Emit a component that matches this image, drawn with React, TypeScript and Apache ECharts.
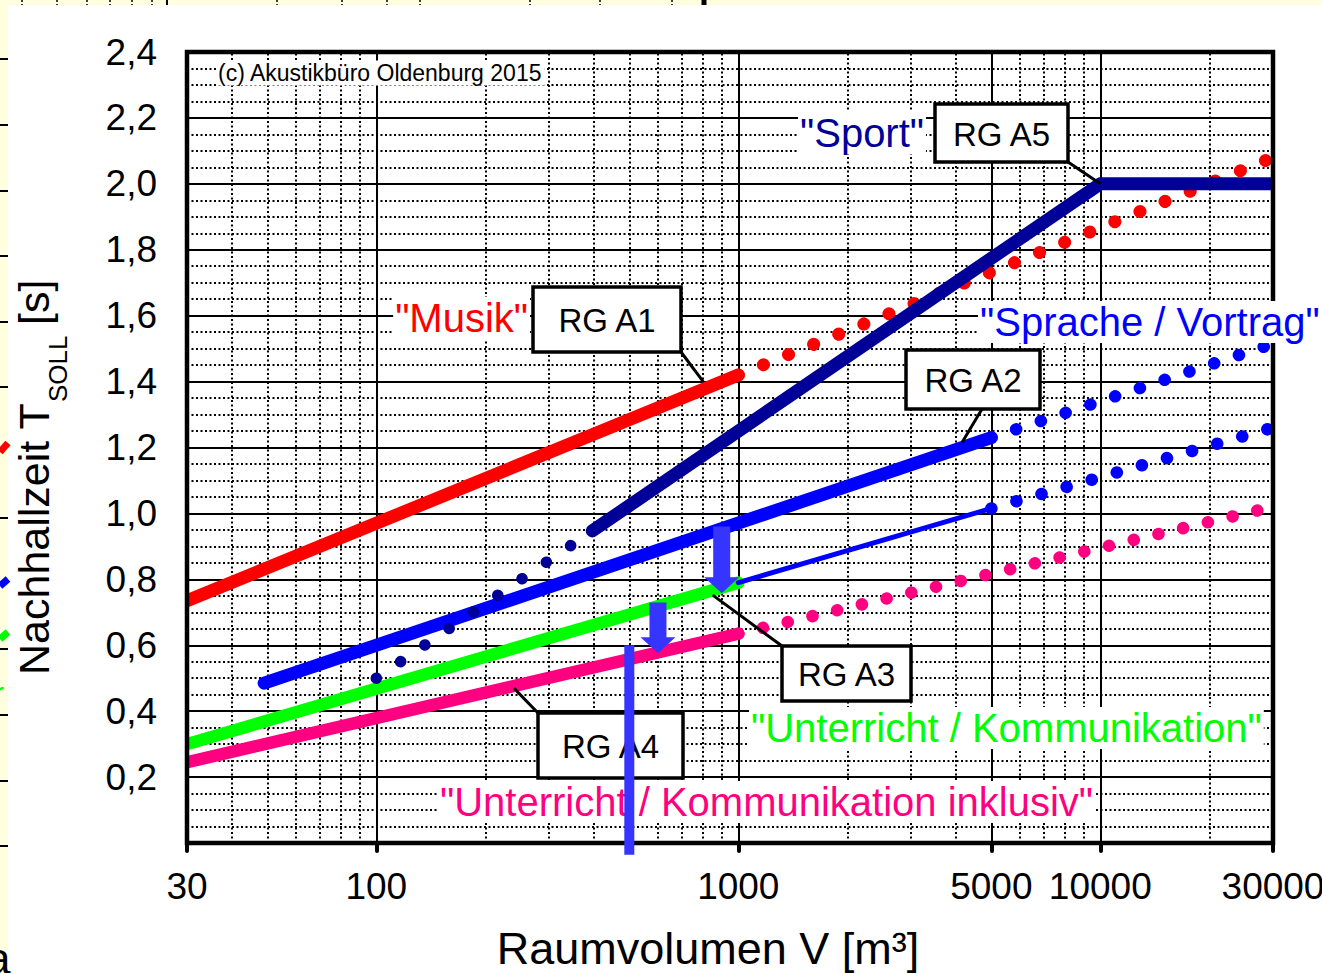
import React, { useEffect, useRef } from 'react';
import * as echarts from 'echarts';

const FONT = '"Liberation Sans", Arial, Helvetica, sans-serif';

// ---- axes ----
const X_MIN = 30;
const X_MAX = 30000;
const X_TICK_LABELS = [30, 100, 1000, 5000, 10000, 30000];
const X_GRID_MAJOR = [100, 1000, 5000, 10000];
const X_GRID_MINOR = [40, 50, 60, 70, 80, 90, 200, 300, 400, 500, 600, 700, 800, 900, 2000, 3000, 4000, 6000, 7000, 8000, 9000, 20000];
const Y_MIN = 0;
const Y_MAX = 2.4;
const Y_INTERVAL = 0.2;

// ---- series: [V in m³, T in s] ----
const A1_MUSIK = [[30, 0.735], [1000, 1.42]];
const A1_MUSIK_EXT = [[1000, 1.42], [30000, 2.08]];
const A2_SPRACHE = [[49, 0.485], [5000, 1.23]];
const A2_SPRACHE_EXT = [[5000, 1.23], [30000, 1.515]];
const A3_UNTERRICHT = [[30, 0.3], [1000, 0.79]];
const A3_UNTERRICHT_MID = [[1000, 0.79], [5000, 1.015]];
const A3_UNTERRICHT_EXT = [[5000, 1.015], [30000, 1.26]];
const A4_INKLUSIV = [[30, 0.245], [1000, 0.635]];
const A4_INKLUSIV_EXT = [[1000, 0.635], [30000, 1.02]];
const A5_SPORT_LOW = [[100, 0.5], [395, 0.947]];
const A5_SPORT = [[395, 0.947], [10000, 2.0], [30000, 2.0]];

// arrows: [V, T start, T tip]
const ARROWS = [[900, 0.96, 0.758], [600, 0.73, 0.576]];
// vertical marker at V = 500
const MARKER_LINE = [[500, 0.6], [500, -0.036]];

// label boxes (pixel layout) with leader anchor in data coords
const RG_BOXES = [
  { label: 'RG A1', rect: [533, 287, 148, 65], from: [681, 352], anchor: [800, 1.4] },
  { label: 'RG A5', rect: [935, 104, 133, 58], from: [1068, 162], anchor: [10000, 2.0] },
  { label: 'RG A2', rect: [906, 350, 134, 59], from: [982, 409], anchor: [4150, 1.215] },
  { label: 'RG A3', rect: [782, 646, 129, 55], from: [782, 646], anchor: [850, 0.752] },
  { label: 'RG A4', rect: [538, 713, 145, 65], from: [538, 713], anchor: [240, 0.47] },
];

const ANNOTATIONS = [
  { text: '(c) Akustikbüro Oldenburg 2015', color: '#000000', x: 216, y: 73, size: 23, align: 'left' },
  { text: '"Musik"', color: '#ff0000', x: 530, y: 318, size: 40, align: 'right' },
  { text: '"Sport"', color: '#000099', x: 798, y: 133, size: 40, align: 'left' },
  { text: '"Sprache / Vortrag"', color: '#0000ff', x: 978, y: 322, size: 40, align: 'left' },
  { text: '"Unterricht / Kommunikation"', color: '#00ff00', x: 749, y: 728, size: 40, align: 'left' },
  { text: '"Unterricht / Kommunikation inklusiv"', color: '#ff0080', x: 438, y: 802, size: 40, align: 'left' },
];

const LEFT_FRAGMENT_TICKS = [59, 125, 191, 256, 322, 387, 518, 649, 715, 781, 846];
const TOP_FRAGMENT_DOTS = [22, 57, 87, 110, 132, 152, 277, 342, 387, 420, 530, 600, 672];

function solid(data: number[][], color: string, width: number, z = 3) {
  return {
    type: 'line', data, symbol: 'none', silent: true, z,
    lineStyle: { color, width, cap: 'round', join: 'round' },
  };
}
function dotted(data: number[][], color: string, width: number, gap: number, z = 3) {
  return {
    type: 'line', data, symbol: 'none', silent: true, z,
    lineStyle: { color, width, cap: 'round', type: [0.1, gap] },
  };
}

function buildGraphic(px: (p: number[]) => number[]) {
  const els: any[] = [];
  const [gx0, gy0] = px([X_MIN, Y_MAX]);
  const [gx1, gy1] = px([X_MAX, Y_MIN]);

  // page background fragments
  els.push({ type: 'rect', silent: true, z: 1, shape: { x: 0, y: 0, width: 1322, height: 5 }, style: { fill: '#ffffe0' } });
  els.push({ type: 'rect', silent: true, z: 1, shape: { x: 0, y: 0, width: 8, height: 973 }, style: { fill: '#ffffe0' } });
  LEFT_FRAGMENT_TICKS.forEach((y) => {
    els.push({ type: 'line', silent: true, z: 2, shape: { x1: 0, y1: y, x2: 8, y2: y }, style: { stroke: '#000', lineWidth: 2 } });
  });
  TOP_FRAGMENT_DOTS.forEach((x) => {
    els.push({ type: 'line', silent: true, z: 2, shape: { x1: x, y1: 0, x2: x, y2: 5 }, style: { stroke: '#000', lineWidth: 1.5, lineDash: [2, 2] } });
  });
  els.push({ type: 'line', silent: true, z: 2, shape: { x1: 167, y1: 0, x2: 167, y2: 5 }, style: { stroke: '#000', lineWidth: 2 } });
  els.push({ type: 'line', silent: true, z: 2, shape: { x1: 704, y1: 0, x2: 704, y2: 5 }, style: { stroke: '#000', lineWidth: 5 } });
  els.push({ type: 'line', silent: true, z: 2, shape: { x1: 0, y1: 452, x2: 8, y2: 443 }, style: { stroke: '#ff0000', lineWidth: 7 } });
  els.push({ type: 'line', silent: true, z: 2, shape: { x1: 0, y1: 586, x2: 8, y2: 579 }, style: { stroke: '#0000ff', lineWidth: 7 } });
  els.push({ type: 'line', silent: true, z: 2, shape: { x1: 0, y1: 639, x2: 8, y2: 632 }, style: { stroke: '#00ff00', lineWidth: 7 } });
  els.push({ type: 'text', silent: true, z: 2, x: -6, y: 692, style: { text: 'r', fontSize: 30, fontFamily: FONT, fill: '#00ff00', align: 'left', verticalAlign: 'middle' } });
  els.push({ type: 'text', silent: true, z: 2, x: -14, y: 958, style: { text: 'a', fontSize: 44, fontFamily: FONT, fill: '#000', align: 'left', verticalAlign: 'middle' } });

  // masks for line caps protruding beyond the plot frame
  els.push({ type: 'rect', silent: true, z: 6, shape: { x: gx0 - 28, y: gy0 - 10, width: 26, height: gy1 - gy0 + 20 }, style: { fill: '#fff' } });
  els.push({ type: 'rect', silent: true, z: 6, shape: { x: gx1 + 2, y: gy0 - 10, width: 20, height: gy1 - gy0 + 20 }, style: { fill: '#fff' } });
  // frame
  els.push({ type: 'rect', silent: true, z: 7, shape: { x: gx0, y: gy0, width: gx1 - gx0, height: gy1 - gy0 }, style: { fill: 'none', stroke: '#000', lineWidth: 4.5 } });

  // axis titles
  els.push({
    type: 'group', x: 34, y: 675, rotation: Math.PI / 2, z: 10, silent: true,
    children: [
      { type: 'text', x: 0, y: 0, style: { text: 'Nachhallzeit T', fontSize: 43, fontFamily: FONT, fill: '#000', align: 'left', verticalAlign: 'middle' } },
      { type: 'text', x: 273, y: 24, style: { text: 'SOLL', fontSize: 26, fontFamily: FONT, fill: '#000', align: 'left', verticalAlign: 'middle' } },
      { type: 'text', x: 350, y: 0, style: { text: '[s]', fontSize: 43, fontFamily: FONT, fill: '#000', align: 'left', verticalAlign: 'middle' } },
    ],
  });
  els.push({ type: 'text', silent: true, z: 10, x: 708, y: 948, style: { text: 'Raumvolumen V [m³]', fontSize: 45, fontFamily: FONT, fill: '#000', align: 'center', verticalAlign: 'middle' } });

  // annotations
  ANNOTATIONS.forEach((a) => {
    els.push({
      type: 'text', silent: true, z: 20, x: a.x, y: a.y,
      style: { text: a.text, fontSize: a.size, fontFamily: FONT, fill: a.color, align: a.align, verticalAlign: 'middle', backgroundColor: '#fff', padding: [1, 2, 1, 2] },
    });
  });

  // RG boxes with leaders
  RG_BOXES.forEach((b) => {
    const [ax, ay] = px(b.anchor);
    els.push({ type: 'line', silent: true, z: 19, shape: { x1: b.from[0], y1: b.from[1], x2: ax, y2: ay }, style: { stroke: '#000', lineWidth: 3 } });
    const [x, y, w, h] = b.rect;
    els.push({ type: 'rect', silent: true, z: 21, shape: { x, y, width: w, height: h }, style: { fill: '#fff', stroke: '#000', lineWidth: 3.5 } });
    els.push({ type: 'text', silent: true, z: 22, x: x + w / 2, y: y + h / 2 + 1, style: { text: b.label, fontSize: 33, fontFamily: FONT, fill: '#000', align: 'center', verticalAlign: 'middle' } });
  });

  // arrows
  ARROWS.forEach(([v, t0, t1]) => {
    const [x, yTop] = px([v, t0]);
    const [, yTip] = px([v, t1]);
    const sw = 8.5, hw = 17.5, hl = 16;
    els.push({
      type: 'polygon', silent: true, z: 30,
      shape: { points: [[x - sw, yTop], [x + sw, yTop], [x + sw, yTip - hl], [x + hw, yTip - hl], [x, yTip], [x - hw, yTip - hl], [x - sw, yTip - hl]] },
      style: { fill: '#3535ff' },
    });
  });

  // vertical marker line
  const [m0x, m0y] = px(MARKER_LINE[0]);
  const [m1x, m1y] = px(MARKER_LINE[1]);
  els.push({ type: 'line', silent: true, z: 30, shape: { x1: m0x, y1: m0y, x2: m1x, y2: m1y }, style: { stroke: '#3535ff', lineWidth: 10 } });

  return els;
}

export default function App() {
  const ref = useRef<HTMLDivElement>(null);
  useEffect(() => {
    const chart = echarts.init(ref.current as HTMLDivElement, null, { renderer: 'svg' });
    const option: any = {
      animation: false,
      backgroundColor: '#ffffff',
      grid: { left: 187, right: 49, top: 52, bottom: 130, containLabel: false, outerBoundsMode: 'none' },
      xAxis: {
        type: 'log', logBase: 10, min: X_MIN, max: X_MAX,
        axisLine: { show: true, lineStyle: { color: '#000', width: 4 } },
        axisTick: { show: true, customValues: X_TICK_LABELS, length: 8, lineStyle: { color: '#000', width: 4, cap: 'round' } },
        axisLabel: {
          show: true, customValues: X_TICK_LABELS, margin: 25, color: '#000', fontSize: 37, fontFamily: FONT,
          formatter: (v: number) => String(Math.round(v)),
        },
        splitLine: { show: false },
        minorTick: { show: false },
        minorSplitLine: { show: false },
      },
      yAxis: {
        type: 'value', min: Y_MIN, max: Y_MAX, interval: Y_INTERVAL,
        axisLine: { show: true, lineStyle: { color: '#000', width: 4 } },
        axisTick: { show: false },
        axisLabel: {
          margin: 30, color: '#000', fontSize: 37, fontFamily: FONT,
          formatter: (v: number) => (Math.abs(v) < 1e-9 ? '' : v.toFixed(1).replace('.', ',')),
        },
        splitLine: { show: true, lineStyle: { color: '#000', width: 2 } },
        minorTick: { show: false, splitNumber: 4 },
        minorSplitLine: { show: true, lineStyle: { color: '#000', width: 2, type: [2, 2.5] } },
      },
      series: [
        {
          type: 'line', data: [], symbol: 'none', silent: true, z: 1,
          markLine: {
            silent: true, symbol: ['none', 'none'], z: 1, animation: false,
            label: { show: false },
            lineStyle: { color: '#000', width: 2, type: [2, 2.5] },
            data: X_GRID_MINOR.map((v) => ({ xAxis: v })),
          },
        },
        {
          type: 'line', data: [], symbol: 'none', silent: true, z: 1,
          markLine: {
            silent: true, symbol: ['none', 'none'], z: 1, animation: false,
            label: { show: false },
            lineStyle: { color: '#000', width: 2, type: 'solid' },
            data: X_GRID_MAJOR.map((v) => ({ xAxis: v })),
          },
        },
        solid(A4_INKLUSIV, '#ff0080', 12.5),
        dotted(A4_INKLUSIV_EXT, '#ff0080', 12.5, 25.3),
        solid(A3_UNTERRICHT, '#00ff00', 12.5),
        solid(A3_UNTERRICHT_MID, '#0000ff', 5),
        dotted(A3_UNTERRICHT_EXT, '#0000ff', 12.5, 26),
        solid(A2_SPRACHE, '#0000ff', 13),
        dotted(A2_SPRACHE_EXT, '#0000ff', 12.5, 26),
        solid(A1_MUSIK, '#ff0000', 13),
        dotted(A1_MUSIK_EXT, '#ff0000', 13, 27),
        dotted(A5_SPORT_LOW, '#000099', 11.5, 29.3, 4),
        solid(A5_SPORT, '#000099', 13, 4),
      ],
    };
    chart.setOption(option);
    const px = (p: number[]) => chart.convertToPixel({ xAxisIndex: 0, yAxisIndex: 0 }, p) as number[];
    chart.setOption({ graphic: buildGraphic(px) });
    return () => chart.dispose();
  }, []);
  return (
    <div
      ref={ref}
      style={{ position: 'fixed', left: 0, top: 0, width: 1322, height: 973, background: '#fff' }}
    />
  );
}
